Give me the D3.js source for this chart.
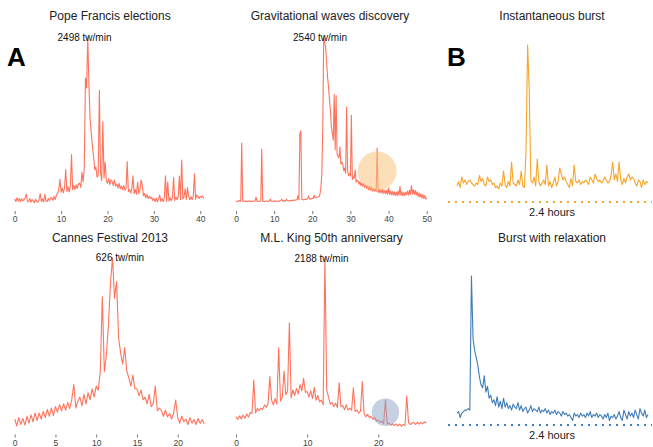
<!DOCTYPE html>
<html><head><meta charset="utf-8">
<script src="https://cdn.jsdelivr.net/npm/d3@7"></script>
<style>
body{margin:0;background:#fff;}
svg{display:block;font-family:"Liberation Sans",Arial,Helvetica,sans-serif;}
</style></head>
<body><svg id="c" width="653" height="447"></svg>
<script>
// ---- Data (tw/min sampled every 0.25 time units) ----
const popeTitle = "Pope Francis elections";
const popeMax = 2498;
const popeValues = [
130,95,150,100, 140,90,135,105, 120,150,200,95, 90,140,85,125,
100,80,130,90, 85,125,210,95, 135,85,200,100, 95,140,105,145,
150,110,170,125, 185,220,260,420, 230,290,225,300, 560,240,310,235,
320,780,265,330, 270,340,285,355, 360,300,520,380, 600,1900,1750,2498,
1800,1300,1100,900, 760,560,600,450, 480,1720,520,400, 1260,440,670,400,
360,430,340,410, 390,330,410,320, 350,290,360,280, 320,270,330,260,
290,680,240,270, 220,280,470,210, 270,200,380,210, 260,410,330,180,
210,150,200,140, 170,140,160,110, 140,95,145,90, 130,190,95,140,
95,145,470,100, 380,100,150,105, 145,450,110,160, 120,165,465,125,
700,130,165,280, 125,300,170,120, 165,125,170,500, 130,190,170,140,
170,155,175,140
];
const popeTicks = [0,10,20,30,40];

const gravTitle = "Gravitational waves discovery";
const gravMax = 2540;
const gravValues = [
100,95,105,100, 110,100,960,105, 100,95,105,100, 95,100,105,98,
100,95,102,100, 105,160,100,98, 95,100,105,870, 100,98,95,100,
102,100,98,105, 130,100,98,102, 100,105,98,100, 102,100,105,110,
130,105,100,110, 105,130,110,105, 108,112,105,115, 110,120,115,118,
125,180,120,1100, 1140,130,125,120, 125,130,128,135, 180,135,130,140,
145,140,190,150, 155,160,165,170, 200,295,500,1200, 2540,2450,2380,2150,
1935,1800,1600,1450, 1200,1100,1000,1680, 860,1660,800,760, 740,900,650,680,
640,550,590,510, 1490,560,480,510, 470,1370,420,460, 440,560,380,410,
400,350,390,330, 370,320,360,300, 340,290,330,270, 320,260,310,250,
290,250,285,245, 885,230,280,225, 270,220,275,215, 260,210,265,205,
300,200,250,195, 245,190,240,185, 235,180,250,190, 320,185,235,180,
230,180,235,200, 250,190,260,200, 330,210,270,200, 260,190,240,170,
220,160,210,150, 200,140,185,130, 148
];
const gravTicks = [0,10,20,30,40,50];
const gravMarkTime = 37;

const cannesTitle = "Cannes Festival 2013";
const cannesMax = 626;
const cannesValues = [
40,15,45,20, 42,18,50,25, 55,30,62,35, 62,40,68,45,
75,50,80,52, 85,65,92,70, 95,72,100,78, 110,166,80,105,
120,88,130,95, 135,110,150,120, 160,145,212,485, 212,273,382,535,
626,480,540,334, 280,240,300,215, 190,160,200,150, 150,125,145,110,
120,95,130,85, 95,160,70,80, 70,50,72,48, 60,40,62,109,
45,25,50,30, 40,20,45,25, 38,20,42,24, 38,22
];
const cannesTicks = [0,5,10,15,20];

const mlkTitle = "M.L. King 50th anniversary";
const mlkMax = 2188;
const mlkValues = [
170,135,180,140, 190,150,205,165, 225,210,637,220, 275,245,280,260,
320,290,330,680, 380,320,400,330, 1049,370,410,752, 450,500,1367,410,
510,440,530,460, 580,500,658,480, 490,420,500,400, 540,380,440,360,
380,320,2188,510, 420,330,350,300, 340,285,603,295, 310,260,320,255,
280,250,539,235, 255,215,240,616, 215,170,200,155, 175,135,160,115,
130,95,115,80, 382,75,90,60, 80,55,78,52, 75,50,72,55,
433,95,70,92, 95,72,100,75, 98,80,105,90
];
const mlkTicks = [0,10,20];
const mlkMarkTime = 21;

// Panel B: normalized activity (peak = 100)
const instTitle = "Instantaneous burst";
const instValues = [
6,9,5,12,8,10,7,9,10,8, 7,6,8,7,13,9,11,7,6,12,
9,10,7,8,5,6,4,8,6,16, 7,5,9,6,22,8,7,6,10,7,
16,6,5,30,100,70,10,8,12,6, 24,9,6,8,10,7,20,6,9,5,
8,12,6,9,18,14,10,12,9,7, 5,11,6,20,9,8,10,7,9,8,
10,9,7,12,10,8,14,11,9,10, 8,9,12,10,8,9,13,22,10,14,
9,22,10,7,11,8,12,14,10,12, 11,8,6,10,9,5,10,7,9,8
];
const relaxTitle = "Burst with relaxation";
const relaxValues = [
8,9,5,8,9,10,10,11,10,100, 58,50,45,40,32,27,25,33,22,26,
18,20,15,17,13,19,12,16,11,18, 12,15,11,13,10,14,12,11,15,10,
13,9,11,12,8,10,13,9,11,10, 9,12,8,10,9,11,8,10,7,9,
8,10,7,9,8,6,9,7,8,6, 7,5,3,8,6,7,5,8,6,7,
5,8,6,9,5,7,6,8,5,7, 6,4,7,5,8,3,6,5,7,4,
6,9,5,3,10,7,4,9,6,8, 5,10,7,4,11,8,6,10,5,7
];
const durationLabel = "2.4 hours";

// ---- Drawing ----
const svg = d3.select("#c");
const RED = "#ff5a3f", ORANGE = "#f7a52a", BLUE = "#3f7cba";

function panelA(o){
  const g = svg.append("g");
  const x = d3.scaleLinear().domain([0, o.xmax]).range(o.xr);
  const y = d3.scaleLinear().domain([0, o.max]).range(o.yr);
  const pts = o.values.map((v,i)=>[i*0.25, v]);
  g.append("path").datum(pts)
    .attr("fill","none").attr("stroke",RED).attr("stroke-width",1.1)
    .attr("stroke-opacity",0.85).attr("stroke-linejoin","round")
    .attr("d", d3.line().x(d=>x(d[0])).y(d=>y(d[1])));
  if (o.mark != null) {
    g.append("circle").attr("cx",x(o.mark)).attr("cy",o.circleY)
      .attr("r",o.r).attr("fill",o.circleFill).attr("fill-opacity",o.circleOp);
  }
  const ax = d3.axisBottom(x).tickValues(o.ticks).tickSize(3).tickPadding(2).tickFormat(d3.format("d"));
  const axg = g.append("g").attr("transform",`translate(0,${o.axisY})`).call(ax);
  axg.select(".domain").remove();
  axg.selectAll(".tick line").attr("stroke","#555").attr("stroke-width",0.8);
  axg.selectAll(".tick text").attr("fill","#444").attr("font-size","8.5px")
     .attr("font-family","Liberation Sans, Arial, sans-serif");
  g.append("text").attr("x",o.titleX).attr("y",o.titleY).attr("text-anchor","middle")
    .attr("font-size","12px").attr("fill","#222").text(o.title);
  g.append("text").attr("x",o.labX).attr("y",o.labY).attr("text-anchor","middle")
    .attr("font-size","10px").attr("fill","#111").text(o.max + " tw/min");
}

panelA({title:popeTitle, values:popeValues, max:popeMax, xmax:41, xr:[14.7,204.9], yr:[208,37],
  ticks:popeTicks, axisY:211, titleX:110, titleY:20, labX:84.5, labY:40.5});
panelA({title:gravTitle, values:gravValues, max:gravMax, xmax:50, xr:[236,426.7], yr:[208,36],
  ticks:gravTicks, axisY:211, titleX:330, titleY:20, labX:320, labY:40.5,
  mark:gravMarkTime, circleY:171, r:19.5, circleFill:"#f9c37f", circleOp:0.55});
panelA({title:cannesTitle, values:cannesValues, max:cannesMax, xmax:25, xr:[14.7,218.45], yr:[430,258],
  ticks:cannesTicks, axisY:434.5, titleX:110, titleY:242, labX:120, labY:261});
panelA({title:mlkTitle, values:mlkValues, max:mlkMax, xmax:20, xr:[236,378.3], yr:[430,258.3],
  ticks:mlkTicks, axisY:434.5, titleX:331.5, titleY:242, labX:321.5, labY:262,
  mark:mlkMarkTime, circleY:412.3, r:13.7, circleFill:"#8ca3c6", circleOp:0.5});

function panelB(o){
  const g = svg.append("g");
  const x = d3.scaleLinear().domain([0, o.values.length-1]).range([457,648]);
  const y = d3.scaleLinear().domain([0,100]).range(o.yr);
  g.append("path").datum(o.values)
    .attr("fill","none").attr("stroke",o.color).attr("stroke-width",1.1)
    .attr("stroke-linejoin","round")
    .attr("d", d3.line().x((d,i)=>x(i)).y(d=>y(d)));
  g.append("line").attr("x1",448).attr("x2",652).attr("y1",o.dotY).attr("y2",o.dotY)
    .attr("stroke",o.color).attr("stroke-width",2).attr("stroke-dasharray","2,5");
  g.append("text").attr("x",552).attr("y",o.dotY+14).attr("text-anchor","middle")
    .attr("font-size","11px").attr("fill","#222").text(durationLabel);
  g.append("text").attr("x",552).attr("y",o.titleY).attr("text-anchor","middle")
    .attr("font-size","12px").attr("fill","#222").text(o.title);
}
panelB({title:instTitle, values:instValues, color:ORANGE, yr:[195,45], dotY:202, titleY:20});
panelB({title:relaxTitle, values:relaxValues, color:BLUE, yr:[425,276], dotY:425, titleY:242});

svg.append("text").attr("x",7).attr("y",66).attr("font-size","26px").attr("font-weight","bold")
  .attr("fill","#000").text("A");
svg.append("text").attr("x",447).attr("y",65.5).attr("font-size","26px").attr("font-weight","bold")
  .attr("fill","#000").text("B");
</script></body></html>
